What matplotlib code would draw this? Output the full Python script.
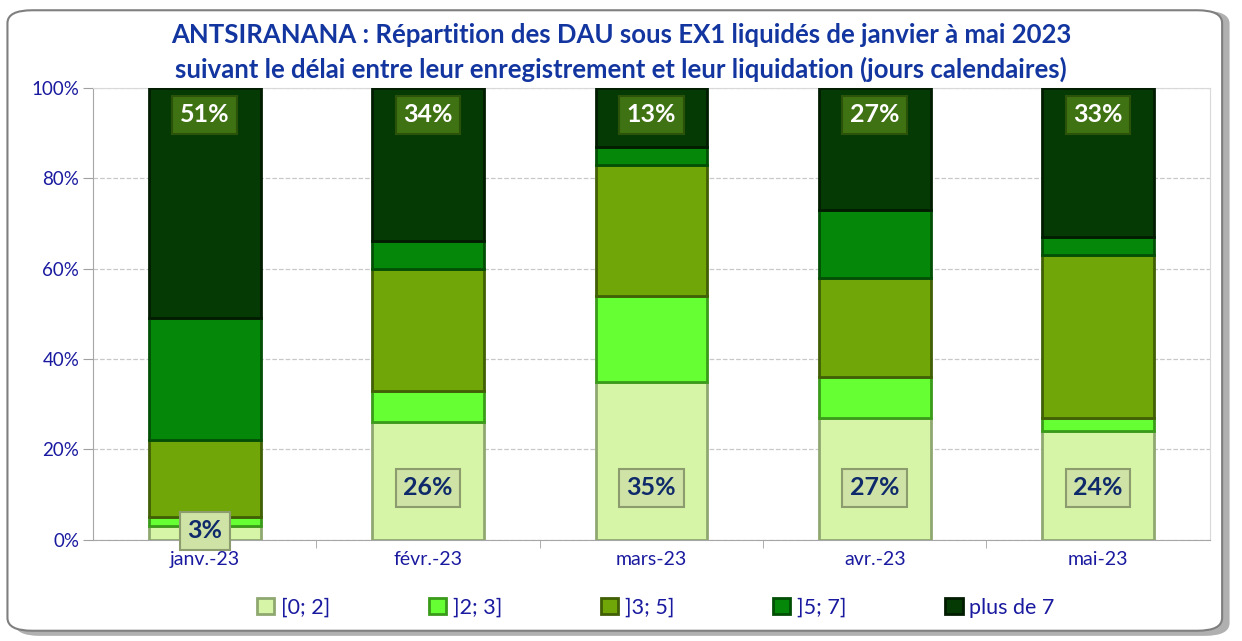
import numpy as np
import matplotlib.pyplot as plt
from matplotlib.patches import FancyBboxPatch

plt.rcParams['font.family'] = ['Lato', 'DejaVu Sans']

months = ['janv.-23', 'févr.-23', 'mars-23', 'avr.-23', 'mai-23']
series = ['[0; 2]', ']2; 3]', ']3; 5]', ']5; 7]', 'plus de 7']
v_0_2 = [3, 26, 35, 27, 24]
v_2_3 = [2, 7, 19, 9, 3]
v_3_5 = [17, 27, 29, 22, 36]
v_5_7 = [27, 6, 4, 15, 4]
v_plus7 = [51, 34, 13, 27, 33]

colors = ['#D6F5A6', '#66FF33', '#70A608', '#05880A', '#053A05']
edges = ['#8FA870', '#3A9A1A', '#415F05', '#034F06', '#021C02']
navy = '#1235A0'

fig = plt.figure(figsize=(12.42, 6.41), dpi=100)
ax = fig.add_axes([0.075, 0.158, 0.899, 0.705])

# cadre arrondi avec ombre
fig.patches.append(FancyBboxPatch((0.012, 0.008), 0.978, 0.975, boxstyle='round,pad=0,rounding_size=0.02',
                                  transform=fig.transFigure, facecolor='#B0B0B0', edgecolor='none', zorder=-2))
fig.patches.append(FancyBboxPatch((0.006, 0.016), 0.978, 0.968, boxstyle='round,pad=0,rounding_size=0.02',
                                  transform=fig.transFigure, facecolor='white', edgecolor='#7F7F7F', lw=1.5, zorder=-1))

x = np.arange(len(months))
data = [v_0_2, v_2_3, v_3_5, v_5_7, v_plus7]
bottom = np.zeros(len(months))
for i, vals in enumerate(data):
    vals = np.array(vals)
    ax.bar(x, vals, 0.5, bottom=bottom, color=colors[i], edgecolor=edges[i], linewidth=2,
           label=series[i], zorder=3)
    bottom = bottom + vals

# étiquettes
for i in range(len(months)):
    ax.text(x[i], 11.5 if v_0_2[i] > 8 else 2, f'{v_0_2[i]}%', ha='center', va='center',
            fontsize=18, fontweight='bold', color='#0F2A6A', zorder=5,
            bbox=dict(boxstyle='square,pad=0.3', fc='#CFE3A6', ec='#8C9C6E', lw=1.5))
    ax.text(x[i], 94, f'{v_plus7[i]}%', ha='center', va='center',
            fontsize=18, fontweight='bold', color='white', zorder=5,
            bbox=dict(boxstyle='square,pad=0.3', fc='#3F7213', ec='#2A5208', lw=1.5))

ax.set_xlim(-0.5, 4.5)
ax.set_ylim(0, 100)
ax.set_yticks(range(0, 101, 20))
ax.set_yticklabels([f'{t}%' for t in range(0, 101, 20)], color='#1A1AA0', fontsize=13.5)
ax.set_xticks(x)
ax.set_xticklabels(months, color='#1A1AA0', fontsize=14)
ax.set_xticks(np.arange(0.5, 4.5, 1), minor=True)
ax.tick_params(axis='x', which='major', length=0, pad=8)
ax.tick_params(axis='x', which='minor', length=6, color='#A0A0A0', direction='out')
ax.tick_params(axis='y', length=7, color='#A0A0A0', pad=3)
ax.grid(axis='y', linestyle='--', color='#C8C8C8', lw=0.9, zorder=0)
for s in ['top', 'right']:
    ax.spines[s].set_color('#D9D9D9')
for s in ['left', 'bottom']:
    ax.spines[s].set_color('#A6A6A6')

fig.text(0.5, 0.946, 'ANTSIRANANA : Répartition des DAU sous EX1 liquidés de janvier à mai 2023',
         ha='center', va='center', fontsize=18.5, fontweight='bold', color=navy)
fig.text(0.5, 0.892, 'suivant le délai entre leur enregistrement et leur liquidation (jours calendaires)',
         ha='center', va='center', fontsize=18.5, fontweight='bold', color=navy)

leg = fig.legend(loc='center', bbox_to_anchor=(0.528, 0.052), ncol=5, frameon=False,
                 fontsize=15.5, handlelength=0.8, handleheight=0.8, columnspacing=4.6, handletextpad=0.3)
for t in leg.get_texts():
    t.set_color('#1A1AA0')

fig.savefig('out.png', dpi=100)
